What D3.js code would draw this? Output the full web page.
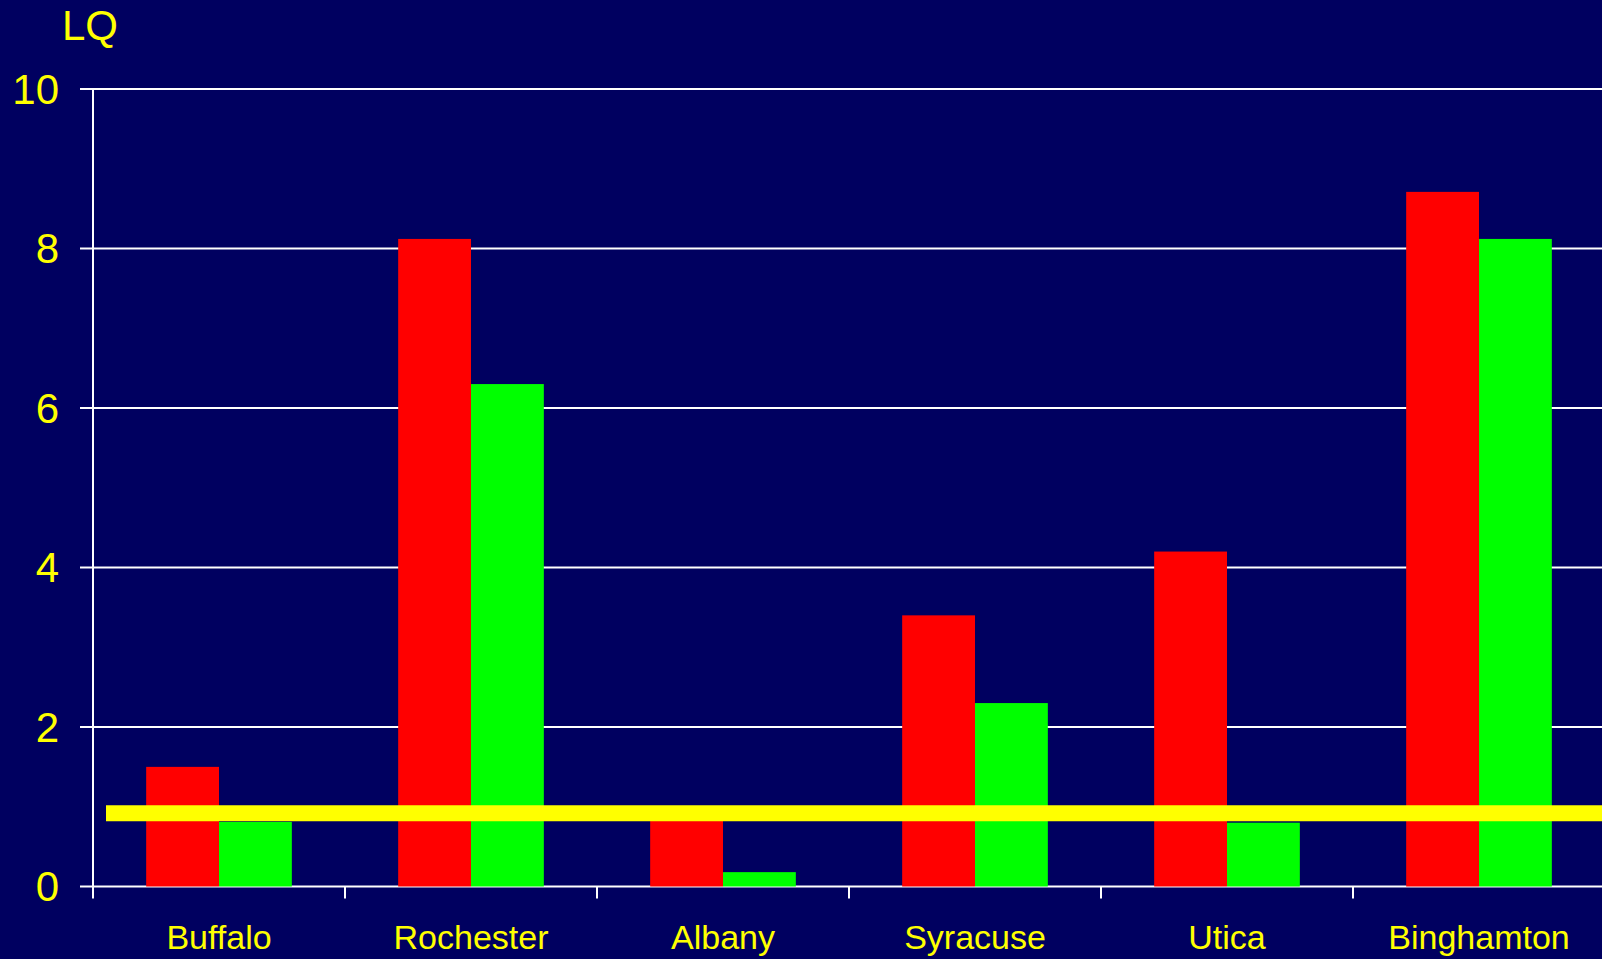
<!DOCTYPE html>
<html>
<head>
<meta charset="utf-8">
<script src="https://cdn.jsdelivr.net/npm/d3@7"></script>
<style>
  html, body { margin: 0; padding: 0; background: #000060; overflow: hidden; }
  svg { display: block; font-family: "Liberation Sans", Arial, sans-serif; }
</style>
</head>
<body>
<div id="chart"></div>
<script>
// LQ by city, two series (red / green) with a reference line near 1

const cities = ['Buffalo', 'Rochester', 'Albany', 'Syracuse', 'Utica', 'Binghamton'];
const seriesNames = ['first', 'second'];
const redValues = [1.5, 8.12, 0.9, 3.4, 4.2, 8.71];
const greenValues = [0.81, 6.3, 0.18, 2.3, 0.8, 8.12];
const yTicks = [0, 2, 4, 6, 8, 10];
const refLine = 0.92;

const width = 1602, height = 959;
const margin = { left: 93, top: 89, bottom: 72 };
const plotRight = 1605; // plot runs a little past the window edge

const colors = { first: '#ff0000', second: '#00ff00' };

const svg = d3.select('#chart').append('svg')
  .attr('width', width)
  .attr('height', height);

svg.append('rect')
  .attr('width', width).attr('height', height)
  .attr('fill', '#000060');

const x = d3.scaleBand()
  .domain(cities)
  .range([margin.left, plotRight]);

const x1 = d3.scaleBand()
  .domain(seriesNames)
  .range([0, x.bandwidth()])
  .paddingOuter(0.73)
  .paddingInner(0);

const y = d3.scaleLinear()
  .domain([0, 10])
  .range([height - margin.bottom - 0.5, margin.top]);

// gridlines
svg.append('g')
  .selectAll('line')
  .data(yTicks)
  .join('line')
  .attr('x1', margin.left - 13)
  .attr('x2', plotRight)
  .attr('y1', d => y(d))
  .attr('y2', d => y(d))
  .attr('stroke', '#ffffff')
  .attr('stroke-width', 2);

// y tick labels
svg.append('g')
  .selectAll('text')
  .data(yTicks)
  .join('text')
  .attr('x', 59)
  .attr('y', d => y(d))
  .attr('dy', '0.35em')
  .attr('text-anchor', 'end')
  .attr('fill', '#ffff00')
  .attr('font-size', 42)
  .text(d => d);

// axis title
svg.append('text')
  .attr('x', 62)
  .attr('y', 40)
  .attr('fill', '#ffff00')
  .attr('font-size', 42)
  .text('LQ');

// bars
const rows = cities.map((c, i) => ({ city: c, first: redValues[i], second: greenValues[i] }));

svg.append('g')
  .selectAll('g')
  .data(rows)
  .join('g')
  .attr('transform', d => `translate(${x(d.city)},0)`)
  .selectAll('rect')
  .data(d => seriesNames.map(k => ({ key: k, value: d[k] })))
  .join('rect')
  .attr('x', d => x1(d.key))
  .attr('width', x1.bandwidth())
  .attr('y', d => y(d.value))
  .attr('height', d => y(0) - y(d.value))
  .attr('fill', d => colors[d.key]);

// y axis line
svg.append('line')
  .attr('x1', margin.left).attr('x2', margin.left)
  .attr('y1', y(10)).attr('y2', y(0) + 12)
  .attr('stroke', '#ffffff')
  .attr('stroke-width', 2);

// x category ticks
svg.append('g')
  .selectAll('line')
  .data(cities.slice(1))
  .join('line')
  .attr('x1', d => x(d))
  .attr('x2', d => x(d))
  .attr('y1', y(0))
  .attr('y2', y(0) + 12)
  .attr('stroke', '#ffffff')
  .attr('stroke-width', 2);

// x category labels
svg.append('g')
  .selectAll('text')
  .data(cities)
  .join('text')
  .attr('x', d => x(d) + x.bandwidth() / 2)
  .attr('y', y(0) + 62)
  .attr('text-anchor', 'middle')
  .attr('fill', '#ffff00')
  .attr('font-size', 34)
  .text(d => d);

// reference line
svg.append('line')
  .attr('x1', 106)
  .attr('x2', plotRight)
  .attr('y1', y(refLine))
  .attr('y2', y(refLine))
  .attr('stroke', '#ffff00')
  .attr('stroke-width', 16);
</script>
</body>
</html>
